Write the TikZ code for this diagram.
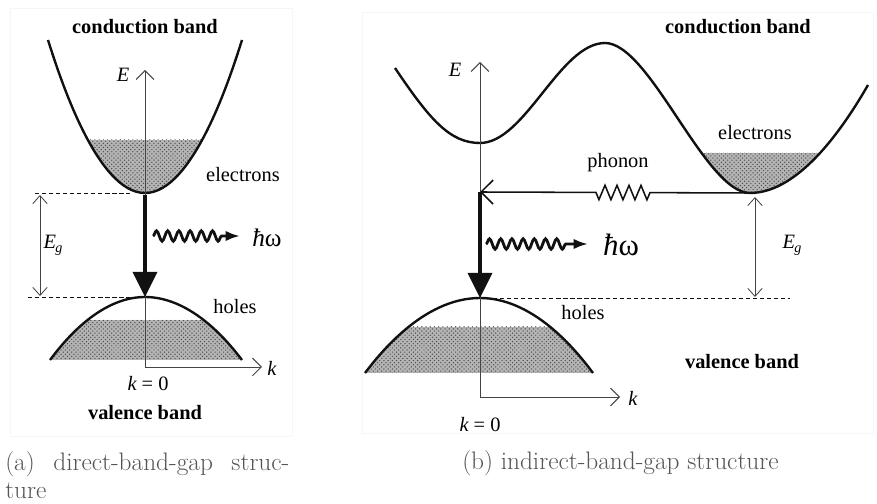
\documentclass[tikz,border=0pt]{standalone}
\usepackage{fontspec}
\newfontfamily\tms{Liberation Serif}
\usetikzlibrary{arrows.meta,positioning,decorations.pathmorphing,patterns}
\definecolor{Ink}{HTML}{111111}
\definecolor{Axis}{HTML}{444444}
\definecolor{Cap}{HTML}{555555}
\definecolor{Stip}{HTML}{B4B4B4}
\definecolor{Frame}{HTML}{F6F6F6}

\begin{document}
\begin{tikzpicture}[x=0.025cm,y=-0.025cm,
    lbl/.style={font=\tms\fontsize{14.5}{17}\selectfont,inner sep=1pt},
    bnd/.style={font=\tms\bfseries\fontsize{14.5}{17}\selectfont,inner sep=1pt},
    capt/.style={font=\fontsize{18}{20}\selectfont,text=Cap,inner sep=0pt,align=left},
    curve/.style={draw=Ink,line width=1.7pt},
    ax/.style={draw=Axis,line width=0.7pt,-{Straight Barb[length=2.2mm,width=4.4mm]}},
    gap/.style={draw=Axis,line width=0.6pt,{Straight Barb[length=2mm,width=3.6mm]}-{Straight Barb[length=2mm,width=3.6mm]}},
    lvl/.style={draw=Ink,line width=0.7pt,dash pattern=on 3pt off 2pt},
    emit/.style={draw=Ink,line width=2.6pt,-{Triangle[length=6.3mm,width=6mm]}},
    ph/.style={draw=Ink,line width=2pt,decorate,decoration={snake,amplitude=1.3mm,segment length=2.8mm,post length=4.5mm},-{Latex[length=3.6mm,width=2.6mm]}},
    phon/.style={draw=Ink,line width=1.1pt,decorate,decoration={zigzag,amplitude=1.8mm,segment length=3mm,pre length=2.5cm,post length=2.75cm},-{Straight Barb[length=3mm,width=6mm]}},
    stip/.style={fill=Stip,postaction={pattern=crosshatch dots,pattern color=gray!60!black}}
  ]
  \useasboundingbox (0,0) rectangle (877,504);
  \draw[Frame,line width=0.6pt] (10,8) rectangle (292,436);
  \draw[Frame,line width=0.6pt] (362,12) rectangle (873,433);

  % (a) direct gap
  \coordinate (o1) at (145,367);
  \coordinate (E1) at (145,70);
  \coordinate (k1) at (262,367);
  \coordinate (cb1) at (145,195);
  \coordinate (vb1) at (145,297);
  \begin{scope}
    \clip (48,40) parabola bend (145,193) (242,40) -- cycle;
    \path[stip] (40,140) rectangle (250,200);
  \end{scope}
  \begin{scope}
    \clip (50,360) parabola bend (145,297) (242,360) -- cycle;
    \path[stip] (40,320) rectangle (250,360);
  \end{scope}
  \draw[curve] (48,40) parabola bend (145,193) (242,40);
  \draw[curve] (50,360) parabola bend (145,297) (242,360);
  \draw[ax] (o1) -- (E1);
  \draw[ax] (o1) -- (k1);
  \draw[lvl] (35,193) -- (130,193);
  \draw[lvl] (28,297) -- (130,297);
  \coordinate (g1t) at (40,195);
  \coordinate (g1b) at (40,296);
  \draw[gap] (g1t) -- (g1b);
  \draw[emit] (cb1) -- (vb1);
  \coordinate (w1s) at (153,236);
  \coordinate (w1e) at (240,236);
  \draw[ph] (w1s) -- (w1e);

  \node[bnd] (cba) at (145,27) {conduction band};
  \node[lbl] (Ea) at (123,75) {\itshape E};
  \node[lbl] (ela) at (243,175) {electrons};
  \node[lbl] (gapa) at (53,245) {\itshape E\kern-0.5pt\raisebox{-0.45ex}{\fontsize{10}{12}\selectfont g}};
  \node[lbl] (hwa) at (267,238) {\fontsize{18}{20}\selectfont{\itshape ħ}ω};
  \node[lbl] (hla) at (235,307) {holes};
  \node[lbl] (ka) at (272,368) {\itshape k};
  \node[lbl] (k0a) at (148,384) {{\itshape k} = 0};
  \node[bnd] (vba) at (145,413) {valence band};
  \node[capt,anchor=north west] (capa) at (5,451) {\hbox to 7.1cm{(a)\hfill direct-band-gap\hfill struc-}\\ture};

  % (b) indirect gap
  \coordinate (o2) at (480,397);
  \coordinate (E2) at (480,62);
  \coordinate (k2) at (620,397);
  \coordinate (cb2) at (750,193);
  \coordinate (c2) at (480,192);
  \coordinate (vb2) at (480,298);
  \begin{scope}
    \clip (605,43) .. controls (650,43) and (705,193) .. (750,193)
      .. controls (800,193) and (845,125) .. (868,85) -- cycle;
    \path[stip] (650,153) rectangle (860,200);
  \end{scope}
  \begin{scope}
    \clip (365,373) parabola bend (480,298) (593,373) -- cycle;
    \path[stip] (360,327) rectangle (600,373);
  \end{scope}
  \draw[curve] (395,68) .. controls (430,120) and (450,143) .. (480,143)
    .. controls (525,143) and (560,43) .. (605,43)
    .. controls (650,43) and (705,193) .. (750,193)
    .. controls (800,193) and (845,125) .. (868,85);
  \draw[curve] (365,373) parabola bend (480,298) (593,373);
  \draw[ax] (o2) -- (E2);
  \draw[ax] (o2) -- (k2);
  \draw[lvl] (493,298) -- (790,298);
  \coordinate (g2t) at (755,197);
  \coordinate (g2b) at (755,297);
  \draw[gap] (g2t) -- (g2b);
  \draw[phon] (cb2) -- (c2);
  \draw[emit] (c2) -- (vb2);
  \coordinate (w2s) at (486,244);
  \coordinate (w2e) at (588,244);
  \draw[ph] (w2s) -- (w2e);

  \node[bnd] (cbb) at (738,27) {conduction band};
  \node[lbl] (Eb) at (455,70) {\itshape E};
  \node[lbl] (phb) at (618,163) {phonon};
  \node[lbl] (elb) at (755,133) {electrons};
  \node[lbl] (hwb) at (621,245) {\fontsize{22}{24}\selectfont{\itshape ħ}ω};
  \node[lbl] (gapb) at (792,245) {\itshape E\kern-0.5pt\raisebox{-0.45ex}{\fontsize{10}{12}\selectfont g}};
  \node[lbl] (hlb) at (583,313) {holes};
  \node[bnd] (vbb) at (742,362) {valence band};
  \node[lbl] (kb) at (633,398) {\itshape k};
  \node[lbl] (k0b) at (480,425) {{\itshape k} = 0};
  \node[capt,anchor=base west] (capb) at (462,470) {(b) indirect-band-gap structure};
\end{tikzpicture}
\end{document}
